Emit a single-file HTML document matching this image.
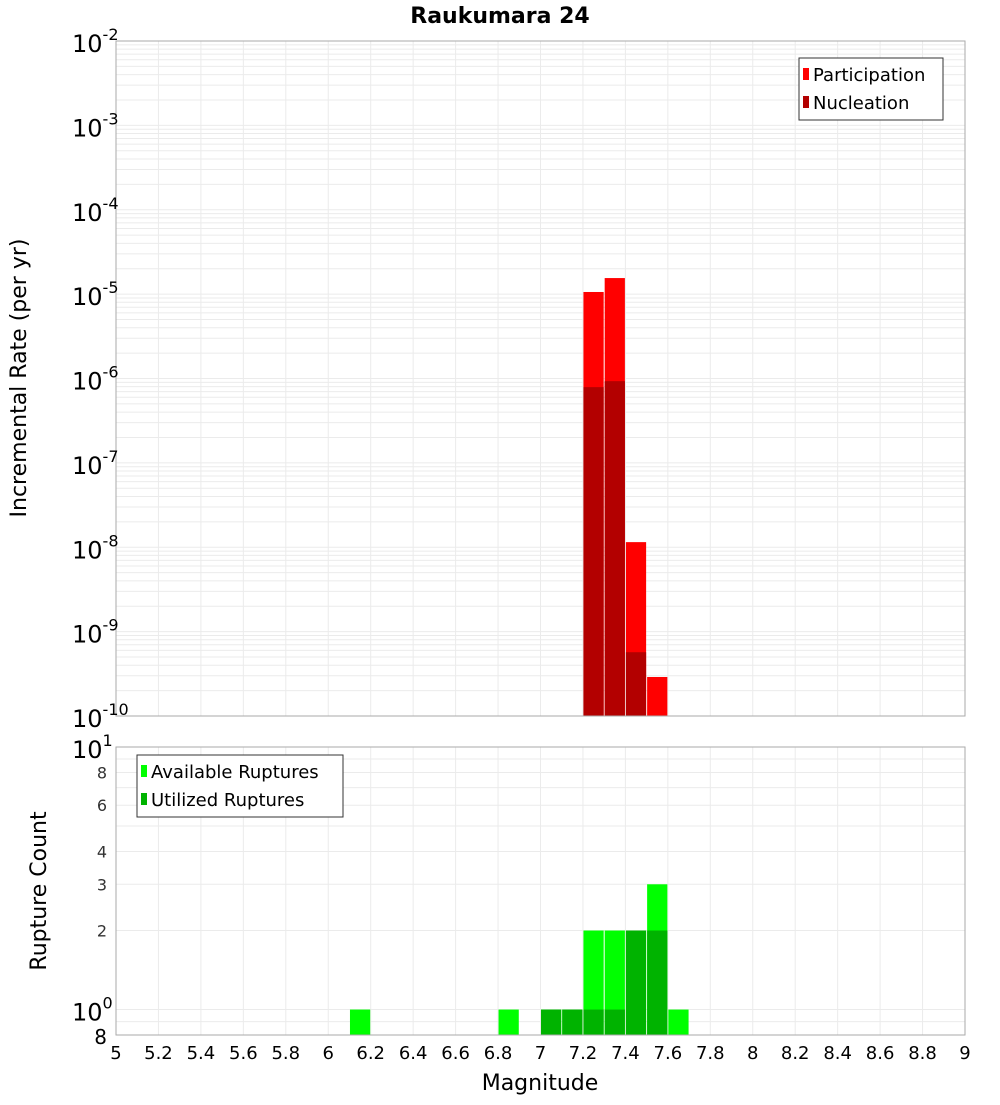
<!DOCTYPE html>
<html><head><meta charset="utf-8"><style>
body{margin:0;background:#fff;}
svg{font-family:"DejaVu Sans","Liberation Sans",sans-serif;}
</style></head><body>
<svg id="c" width="1000" height="1100"></svg>
<script>
const binStarts=[7.2,7.3,7.4,7.5];
const participation=[1.06e-5,1.55e-5,1.15e-8,2.9e-10];
const nucleation=[7.9e-7,9.3e-7,5.7e-10,0];
const countBins=[6.1,6.8,7.0,7.1,7.2,7.3,7.4,7.5,7.6];
const available=[1,1,1,1,2,2,2,3,1];
const utilized=[0,0,1,1,1,1,2,2,0];
const xTicks=["5","5.2","5.4","5.6","5.8","6","6.2","6.4","6.6","6.8","7","7.2","7.4","7.6","7.8","8","8.2","8.4","8.6","8.8","9"];
const countTicks=[2,3,4,6,8];

const NS="http://www.w3.org/2000/svg";
const svg=document.getElementById('c');
function el(t,a,p){const e=document.createElementNS(NS,t);for(const k in a)e.setAttribute(k,a[k]);(p||svg).appendChild(e);return e;}
const L=116,R=965;
const X=m=>L+(m-5)/4*(R-L);
const T1=41,B1=716;
const Y1=v=>T1+(-2-Math.log10(v))*(B1-T1)/8;
const T2=747,B2=1035;
const Y2=v=>T2+(1-Math.log10(v))*(B2-T2)/(1-Math.log10(0.8));

// title
let t=el('text',{x:500,y:23,'text-anchor':'middle','font-size':22,'font-weight':'bold'});t.textContent='Raukumara 24';


// top grid
const g1=el('g',{});
for(let d=-10;d<-2;d++)for(let k=1;k<10;k++){const y=Y1(k*Math.pow(10,d));el('line',{x1:L,x2:R,y1:y,y2:y,stroke:'#ebebeb','stroke-width':1},g1);}
for(let i=0;i<xTicks.length;i++){const x=X(+xTicks[i]);el('line',{x1:x,x2:x,y1:T1,y2:B1,stroke:'#ebebeb'},g1);el('line',{x1:x,x2:x,y1:T2,y2:B2,stroke:'#ebebeb'},g1);}
for(let k=1;k<=10;k++){const y=Y2(k);el('line',{x1:L,x2:R,y1:y,y2:y,stroke:'#ebebeb'},g1);}
{const y=Y2(0.9);el('line',{x1:L,x2:R,y1:y,y2:y,stroke:'#ebebeb'},g1);}

// top bars
function bar(m,y,col,name,bottom){const r=el('rect',{x:X(m)+0.5,y:y,width:X(m+0.1)-X(m)-1,height:Math.max(0,bottom-y),fill:col});}
for(let i=0;i<binStarts.length;i++){if(participation[i]>0)bar(binStarts[i],Y1(participation[i]),'#ff0000','participation-bar',B1);}
for(let i=0;i<binStarts.length;i++){if(nucleation[i]>0)bar(binStarts[i],Y1(nucleation[i]),'#b30000','nucleation-bar',B1);}
for(let i=0;i<countBins.length;i++){if(available[i]>0)bar(countBins[i],Y2(available[i]),'#00ff00','available-bar',B2);}
for(let i=0;i<countBins.length;i++){if(utilized[i]>0)bar(countBins[i],Y2(utilized[i]),'#00b300','utilized-bar',B2);}

// frames
el('rect',{x:L,y:T1,width:R-L,height:B1-T1,fill:'none',stroke:'#aaa'});
el('rect',{x:L,y:T2,width:R-L,height:B2-T2,fill:'none',stroke:'#aaa'});

// top y ticks
for(let d=-2;d>=-10;d--){const y=Y1(Math.pow(10,d));const tx=el('text',{x:105,y:y+11,'text-anchor':'end','font-size':24});

tx.innerHTML='10<tspan dy="-12" font-size="16">'+d+'</tspan>';tx.setAttribute('transform','');
tx.setAttribute('x',72);tx.setAttribute('text-anchor','start');}
// bottom y ticks
{let tx=el('text',{x:72,y:Y2(10)+11,'font-size':24});tx.innerHTML='10<tspan dy="-12" font-size="16">1</tspan>';
 tx=el('text',{x:72,y:Y2(1)+11,'font-size':24});tx.innerHTML='10<tspan dy="-12" font-size="16">0</tspan>';
 tx=el('text',{x:107,y:Y2(0.8)+9,'text-anchor':'end','font-size':20});tx.textContent='8';}
for(const v of countTicks){const tx=el('text',{x:107,y:Y2(v)+6,'text-anchor':'end','font-size':16,fill:'#333'});tx.textContent=v;}
// x ticks
for(const s of xTicks){const tx=el('text',{x:X(+s),y:1059,'text-anchor':'middle','font-size':18});tx.textContent=s;}
// axis titles
t=el('text',{x:540,y:1090,'text-anchor':'middle','font-size':22});t.textContent='Magnitude';
t=el('text',{x:0,y:0,'text-anchor':'middle','font-size':22,transform:'translate(26,378) rotate(-90)'});t.textContent='Incremental Rate (per yr)';
t=el('text',{x:0,y:0,'text-anchor':'middle','font-size':22,transform:'translate(46,891) rotate(-90)'});t.textContent='Rupture Count';

// legends
function legend(x,y,w,items,name){const g=el('g',{});
el('rect',{x:x,y:y,width:w,height:items.length*28+6,fill:'#fff',stroke:'#333'},g);
items.forEach((it,i)=>{el('rect',{x:x+4,y:y+10+i*28,width:6,height:12,fill:it[1]},g);const tx=el('text',{x:x+14,y:y+23+i*28,'font-size':18},g);tx.textContent=it[0];});}
legend(799,58,144,[['Participation','#ff0000'],['Nucleation','#b30000']],'top-legend');
legend(137,755,206,[['Available Ruptures','#00ff00'],['Utilized Ruptures','#00b300']],'bottom-legend');
</script>
</body></html>
